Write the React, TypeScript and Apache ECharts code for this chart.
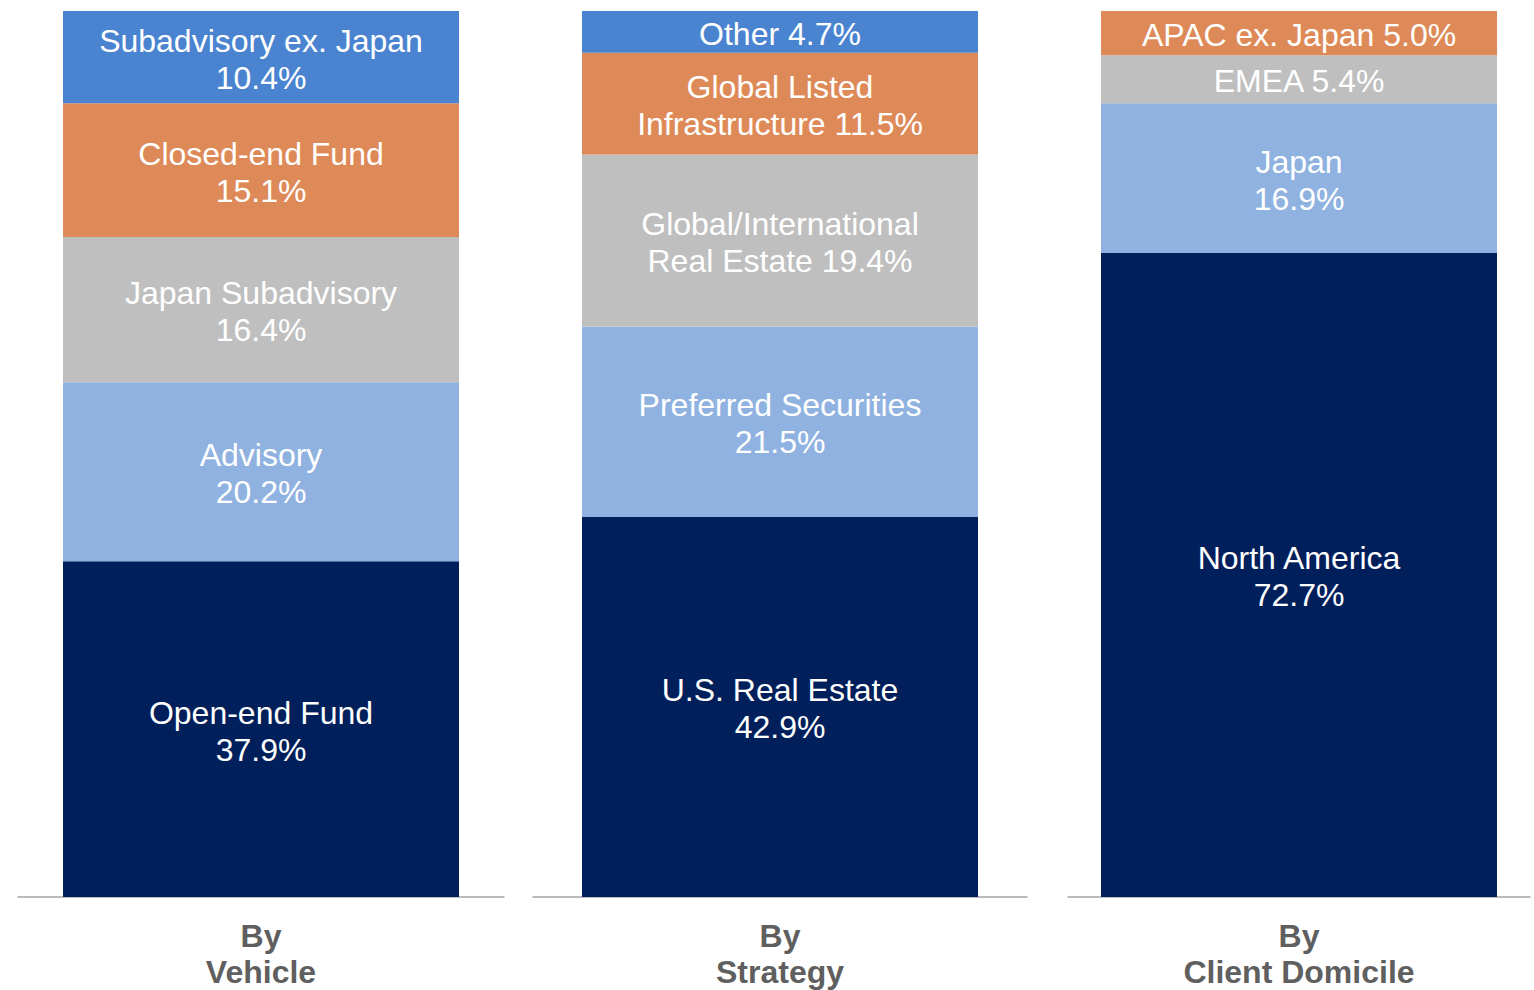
import React, { useEffect, useRef } from "react";
import * as echarts from "echarts";

const categories = ["By\nVehicle", "By\nStrategy", "By\nClient Domicile"];

// Segments listed bottom to top
const vehicleNames = ["Open-end Fund", "Advisory", "Japan Subadvisory", "Closed-end Fund", "Subadvisory ex. Japan"];
const vehicleSeps = ["\n", "\n", "\n", "\n", "\n"];
const vehicleValues = [37.9, 20.2, 16.4, 15.1, 10.4];

const strategyNames = ["U.S. Real Estate", "Preferred Securities", "Global/International\nReal Estate", "Global Listed\nInfrastructure", "Other"];
const strategySeps = ["\n", "\n", " ", " ", " "];
const strategyValues = [42.9, 21.5, 19.4, 11.5, 4.7];

const domicileNames = ["North America", "Japan", "EMEA", "APAC ex. Japan"];
const domicileSeps = ["\n", "\n", " ", " "];
const domicileValues = [72.7, 16.9, 5.4, 5.0];

const palette5 = ["#001F5B", "#8FB2E1", "#BFBFBF", "#DE8A58", "#4A84D0"];
const palette4 = ["#001F5B", "#8FB2E1", "#BFBFBF", "#DE8A58"];

const groups = [
  { names: vehicleNames, seps: vehicleSeps, values: vehicleValues, colors: palette5 },
  { names: strategyNames, seps: strategySeps, values: strategyValues, colors: palette5 },
  { names: domicileNames, seps: domicileSeps, values: domicileValues, colors: palette4 },
];

const gridLayout = [
  { left: 18, width: 486 },
  { left: 533, width: 494 },
  { left: 1068, width: 462 },
];

const FONT = "'Liberation Sans', Arial, Helvetica, sans-serif";

export default function App() {
  const ref = useRef<HTMLDivElement>(null);
  useEffect(() => {
    if (!ref.current) return;
    const chart = echarts.init(ref.current, undefined, { renderer: "svg" });
    const grid = gridLayout.map((g) => ({ left: g.left, width: g.width, top: 11, bottom: 91, containLabel: false }));
    const xAxis = categories.map((c, i) => ({
      type: "category",
      gridIndex: i,
      data: [c],
      axisTick: { show: false },
      axisLine: { show: true, lineStyle: { color: "#A6A6A6", width: 1.5 } },
      axisLabel: {
        color: "#5F5F5F",
        fontFamily: FONT,
        fontWeight: "bold",
        fontSize: 32,
        lineHeight: 36,
        margin: 21,
        interval: 0,
      },
    }));
    const yAxis = categories.map((_, i) => ({
      type: "value",
      gridIndex: i,
      min: 0,
      max: 100,
      show: false,
      splitLine: { show: false },
    }));
    const series: any[] = [];
    groups.forEach((g, gi) => {
      g.names.forEach((name, si) => {
        const sep = g.seps[si];
        const val = g.values[si];
        series.push({
          type: "bar",
          name,
          xAxisIndex: gi,
          yAxisIndex: gi,
          stack: "s" + gi,
          barWidth: 396,
          data: [val],
          itemStyle: { color: g.colors[si] },
          label: {
            show: true,
            position: "inside",
            offset: [0, 2],
            color: "#FFFFFF",
            fontFamily: FONT,
            fontSize: 32,
            lineHeight: 37,
            align: "center",
            formatter: () => name + sep + val.toFixed(1) + "%",
          },
        });
      });
    });
    chart.setOption({
      animation: false,
      backgroundColor: "#FFFFFF",
      grid,
      xAxis,
      yAxis,
      series,
    });
    return () => chart.dispose();
  }, []);
  return (
    <div
      ref={ref}
      style={{ position: "fixed", left: 0, top: 0, width: 1534, height: 990 }}
    />
  );
}
